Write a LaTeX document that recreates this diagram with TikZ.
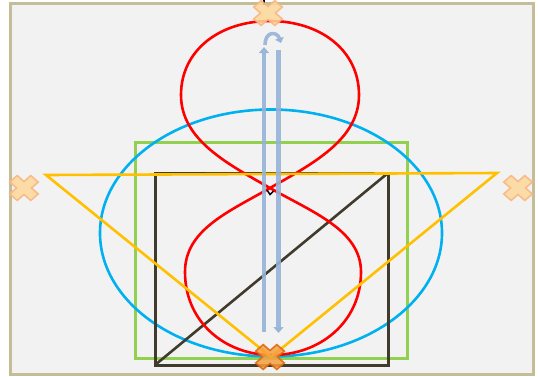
\documentclass[tikz,border=0pt]{standalone}
\usetikzlibrary{arrows.meta}
\definecolor{cfond}{HTML}{F2F2F2}
\definecolor{ccadre}{HTML}{C4BD97}
\definecolor{crouge}{HTML}{FF0000}
\definecolor{cciel}{HTML}{00B0F0}
\definecolor{cvert}{HTML}{92D050}
\definecolor{csombre}{HTML}{403B2C}
\definecolor{cjaune}{HTML}{FFC000}
\definecolor{cfleche}{HTML}{95B3D7}
\definecolor{cmarque}{HTML}{FDD99B}
\definecolor{cmarquebord}{HTML}{F9B580}
\definecolor{cfin}{HTML}{F6A040}
\definecolor{cfinbord}{HTML}{E0650A}

\tikzset{
  trajet/.style={line width=2.6pt},
  fleche/.style={cfleche, line width=4.6pt, opacity=0.9,
                 -{Triangle[width=10pt, length=6pt]}},
  marque/.style={fill=cmarque, draw=cmarquebord, line width=1.6pt,
                 opacity=0.85},
  croix/.pic={
    \path[pic actions, rotate=45]
      (-4.6,13) -- (4.6,13) -- (4.6,4.6) -- (13,4.6) -- (13,-4.6)
      -- (4.6,-4.6) -- (4.6,-13) -- (-4.6,-13) -- (-4.6,-4.6)
      -- (-13,-4.6) -- (-13,4.6) -- (-4.6,4.6) -- cycle;
  }
}

\begin{document}
\begin{tikzpicture}[x=1pt, y=-1pt]
  \useasboundingbox (0,0) rectangle (538,376);

  % --- cadre de la diapositive ------------------------------------------
  \draw[ccadre, fill=cfond, line width=3pt] (10,3) rectangle (533,374);

  % --- rectangle vert et ellipse bleue ----------------------------------
  \draw[cvert, line width=3pt] (135,142) rectangle (407,358);
  \draw[cciel, trajet] (271,233) ellipse [x radius=171, y radius=123.5];

  % --- rectangle sombre et sa diagonale ---------------------------------
  \draw[csombre, line width=3pt] (155,173) rectangle (388,365);
  \draw[csombre, line width=2.6pt] (155,365) -- (388,173);

  % --- huit rouge -------------------------------------------------------
  \draw[crouge, trajet]
    (270,188) .. controls (228,164) and (181,140) .. (181,95)
              .. controls (181,50) and (220,21) .. (270,21)
              .. controls (320,21) and (359,50) .. (359,95)
              .. controls (359,140) and (312,164) .. (270,188)
              .. controls (228,212) and (185,230) .. (185,272)
              .. controls (185,322) and (225,355) .. (272,355)
              .. controls (320,355) and (361,322) .. (361,272)
              .. controls (361,230) and (312,212) .. (270,188);

  % --- triangle jaune ---------------------------------------------------
  \draw[cjaune, trajet, line join=miter] (46,175) -- (497,173) -- (271,357) -- cycle;

  % --- fleches aller-retour ---------------------------------------------
  \draw[fleche] (264,332) -- (264,47);
  \draw[fleche, line width=3.6pt, -{Triangle[width=9pt, length=5pt]}]
    (265,45) .. controls (265,31) and (277,31) .. (281,43);
  \draw[fleche] (278.5,50) -- (278.5,333);

  % --- petits reperes noirs ---------------------------------------------
  \draw[black, line width=1.6pt] (264,0) -- (264,5);
  \draw[black, line width=1.4pt] (267,190) -- (270,194.5) -- (273.5,191);

  % --- croix de depart et d'arrivee -------------------------------------
  \pic[marque, xscale=1.15] at (268,13) {croix};
  \pic[marque, xscale=1.15] at (24,188) {croix};
  \pic[marque, xscale=1.15] at (518,188) {croix};
  \pic[marque, xscale=1.15, fill=cfin, draw=cfinbord] at (270,357) {croix};
\end{tikzpicture}
\end{document}
